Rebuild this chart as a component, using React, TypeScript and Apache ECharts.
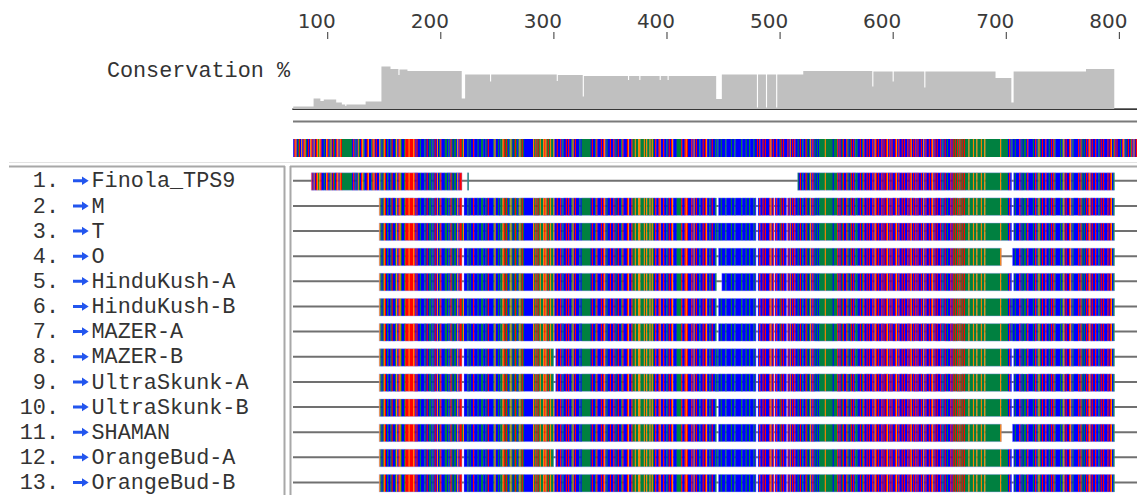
import React, { useEffect, useRef } from 'react';
import * as echarts from 'echarts';

// ---------- data ----------
const NAMES = [
  'Finola_TPS9', 'M', 'T', 'O', 'HinduKush-A', 'HinduKush-B', 'MAZER-A',
  'MAZER-B', 'UltraSkunk-A', 'UltraSkunk-B', 'SHAMAN', 'OrangeBud-A', 'OrangeBud-B',
];

const RULER_TICKS = [100, 200, 300, 400, 500, 600, 700, 800];

// visible window of alignment positions
const POS_MIN = 69.3;
const POS_MAX = 815.6;

// consensus sequence, 10 residues per block, starting at position 70
const SEQ_FIRST = 70;
const SEQ_BLOCKS = [
  'CAGCTACGCA', 'GTCACGACGC', 'AGTGACCTCG', 'ACTGCATCAG', 'CGATTTTTTT',
  'TTCACTCGTC', 'AGTCCAGCCT', 'AGCACCGTCT', 'GACTCCTACC', 'TGCAGTCCTA',
  'AAGAAAGACA', 'CCTCCCTCAC', 'TTCTCACGCT', 'ACCCTTCTCA', 'TCTTCGCAAT',
  'GCCCTCTCCA', 'CCCTCCTTCC', 'TCACCCCTGC', 'CTCTTGATAT', 'CTGTCTATCT',
  'GTATCCCCCC', 'CCGTATATGT', 'TGAGTATGTT', 'GCCACCACTC', 'CACACCTGCA',
  'CCCTCTTTTT', 'TTTCACCTAC', 'CCACAGCTCC', 'ACCACTCACC', 'TACCCAGCCA',
  'TTGTTGGTTT', 'GTGTTGTGTC', 'ACCAGCCACC', 'TCACAGCCCT', 'TTTACCAGAC',
  'CCACGCACCT', 'CCACAGCCTC', 'ACCTCTCCTC', 'CCTCCCCTCC', 'TCCCCCTCCC',
  'TCCTCCCTCC', 'ACACCACACC', 'CAGCACCACC', 'TACACCCACG', 'CACACCTCAC',
  'TCCATCTGCA', 'CTCTCTTTTT', 'GTTTTTTCTT', 'TACACTACCA', 'TCTACACTTC',
  'CACTACCACA', 'CCACGACACC', 'ACACAGCACA', 'CCAGCACCAC', 'ACCACAGCAC',
  'ACACCACGCA', 'CCACAGCACA', 'CCACTCACTC', 'CACATATATA', 'TATATTTGTT',
  'TGTTGTTTGT', 'TGTTTTTTTT', 'TTTTTGTTTT', 'TTCACTCCTC', 'CCACTCTTCA',
  'CCCCTCACTG', 'TCACCACCTC', 'ACATCCCCTC', 'TGCACCAGCT', 'CCCCACATCT',
  'CACAGCACCA', 'CCTCACACCC', 'ACAGCTACAC', 'CTCAGCTCAC', 'TACGCACCTC',
];

const RESIDUES = ['A', 'C', 'G', 'T'];
const RESIDUE_COLORS = ['#ff0000', '#0000ff', '#ff8000', '#008040'];

// each aligned row: first / last residue and gap stretches
const ROW_START = [86, 146, 146, 146, 146, 146, 146, 146, 146, 146, 146, 146, 146];
const ROW_END = [795, 795, 795, 795, 795, 795, 795, 795, 795, 795, 795, 795, 795];
const ROW_GAPS: number[][][] = [
  [[219, 223], [225, 515], [705, 706]],
  [[219, 220], [444, 445], [479, 480], [495, 495], [506, 506], [705, 706]],
  [[479, 480], [495, 495], [506, 506], [705, 706]],
  [[219, 220], [444, 445], [479, 480], [495, 495], [506, 506], [696, 705]],
  [[219, 220], [444, 448], [479, 480], [495, 495], [506, 506], [705, 706]],
  [[444, 445], [479, 480], [495, 495], [506, 506]],
  [[444, 445], [479, 480], [495, 495], [506, 506]],
  [[219, 220], [300, 301], [479, 480], [495, 495], [506, 506], [705, 706]],
  [[219, 220], [300, 301], [479, 480], [495, 495], [506, 506], [705, 706]],
  [[219, 220], [444, 445], [479, 480], [495, 495], [506, 506], [705, 706]],
  [[444, 445], [479, 480], [495, 495], [506, 506], [696, 705]],
  [[219, 220], [300, 301], [479, 480], [495, 495], [506, 506], [705, 706]],
  [[219, 220], [444, 445], [479, 480], [495, 495], [506, 506], [705, 706]],
];

// conservation %: [first position, last position, value]
const CONS_RUNS = [
  [70, 87, 5], [88, 93, 21], [94, 96, 16], [97, 107, 19], [108, 112, 13],
  [113, 115, 9], [116, 116, 6], [117, 133, 9], [134, 147, 15], [148, 155, 85],
  [156, 162, 80], [163, 163, 68], [164, 170, 79], [171, 218, 76], [219, 221, 21],
  [222, 243, 69], [244, 244, 55], [245, 302, 69], [303, 303, 56], [304, 325, 68],
  [326, 326, 25], [327, 365, 66], [366, 366, 58], [367, 375, 66], [376, 376, 58],
  [377, 393, 66], [394, 394, 58], [395, 400, 66], [401, 401, 58], [402, 443, 66],
  [444, 448, 20], [449, 479, 69], [480, 480, 3], [481, 487, 69], [488, 488, 3],
  [489, 496, 69], [497, 497, 3], [498, 520, 69], [521, 581, 76], [582, 582, 45],
  [583, 599, 75], [600, 600, 55], [601, 627, 75], [628, 628, 43], [629, 690, 75],
  [691, 704, 62], [705, 706, 13], [707, 770, 75], [771, 795, 80], [796, 815, 0],
];

// ---------- helpers ----------
const SEQ = SEQ_BLOCKS.join('');
const letterIndex = (p: number) => RESIDUES.indexOf(SEQ[p - SEQ_FIRST]);

function buildRuns(start: number, end: number, gaps: number[][], row: number) {
  const out: number[][] = [];
  let cur: number[] | null = null;
  for (let p = start; p <= end; p++) {
    const inGap = gaps.some((g) => p >= g[0] && p <= g[1]);
    if (inGap) { cur = null; continue; }
    const li = letterIndex(p);
    if (li < 0) { cur = null; continue; }
    if (cur && cur[3] === li && cur[1] === p - 0.5) {
      cur[1] = p + 0.5;
    } else {
      cur = [p - 0.5, p + 0.5, row, li];
      out.push(cur);
    }
  }
  return out;
}

function buildSegments(start: number, end: number, gaps: number[][], row: number) {
  const out: number[][] = [];
  let s = start;
  const sorted = gaps.slice().sort((a, b) => a[0] - b[0]);
  sorted.forEach((g) => {
    if (g[0] > s) out.push([s - 0.5, g[0] - 0.5, row]);
    s = Math.max(s, g[1] + 1);
  });
  if (s <= end) out.push([s - 0.5, end + 0.5, row]);
  return out;
}

const rowResidueData: number[][] = [];
const rowSegmentData: number[][] = [];
NAMES.forEach((_, i) => {
  rowResidueData.push(...buildRuns(ROW_START[i], ROW_END[i], ROW_GAPS[i], i));
  rowSegmentData.push(...buildSegments(ROW_START[i], ROW_END[i], ROW_GAPS[i], i));
});
const consensusData = buildRuns(SEQ_FIRST, 815, [], 0);

const consLine: number[][] = [];
CONS_RUNS.forEach((r) => {
  consLine.push([r[0] - 0.5, r[2]]);
  consLine.push([r[1] + 0.5, r[2]]);
});

const MONO = '"Liberation Mono", "Courier New", monospace';

function residueRenderer(h: number, up: number) {
  return (params: any, api: any) => {
    const a = api.coord([api.value(0), api.value(2)]);
    const b = api.coord([api.value(1), api.value(2)]);
    return {
      type: 'rect',
      shape: { x: a[0], y: a[1] - up, width: b[0] - a[0] + 0.35, height: h },
      style: { fill: RESIDUE_COLORS[api.value(3)] },
    };
  };
}

export default function App() {
  const ref = useRef<HTMLDivElement>(null);
  useEffect(() => {
    const chart = echarts.init(ref.current!, null, { renderer: 'svg' });
    const hiddenX = (grid: number) => ({
      type: 'value', gridIndex: grid, min: POS_MIN, max: POS_MAX, show: false,
    });
    const option: any = {
      animation: false,
      backgroundColor: '#ffffff',
      grid: [
        { left: 293, top: 59, width: 844, height: 50 },
        { left: 293, top: 139, width: 844, height: 18 },
        { left: 293, top: 168.2, width: 844, height: 327.6 },
      ],
      xAxis: [
        {
          type: 'value', gridIndex: 0, min: POS_MIN, max: POS_MAX, position: 'top',
          axisLine: { show: true, lineStyle: { color: '#111', width: 1 } },
          axisTick: { show: false }, axisLabel: { show: false }, splitLine: { show: false },
        },
        {
          type: 'value', gridIndex: 0, min: POS_MIN, max: POS_MAX, position: 'bottom',
          axisLine: { show: true, lineStyle: { color: '#444', width: 1.6 } },
          axisTick: { show: false }, axisLabel: { show: false }, splitLine: { show: false },
        },
        hiddenX(1),
        hiddenX(2),
      ],
      yAxis: [
        { type: 'value', gridIndex: 0, min: 0, max: 100, show: false },
        { type: 'value', gridIndex: 1, min: -0.5, max: 0.5, show: false, inverse: true },
        { type: 'value', gridIndex: 2, min: -0.5, max: NAMES.length - 0.5, show: false, inverse: true },
      ],
      graphic: [
        {
          type: 'text', x: 290, y: 71.2, z: 10,
          style: { text: 'Conservation %', font: `21.8px ${MONO}`, fill: '#333', textAlign: 'right', textVerticalAlign: 'middle' },
        },
        { type: 'line', shape: { x1: 293, y1: 121.5, x2: 1137, y2: 121.5 }, style: { stroke: '#7a7a7a', lineWidth: 2 } },
        { type: 'line', shape: { x1: 9, y1: 162.5, x2: 1137, y2: 162.5 }, style: { stroke: '#e2e2e2', lineWidth: 1 } },
        { type: 'line', shape: { x1: 9, y1: 166.5, x2: 285, y2: 166.5 }, style: { stroke: '#a8a8a8', lineWidth: 2 } },
        { type: 'line', shape: { x1: 284.5, y1: 166, x2: 284.5, y2: 495 }, style: { stroke: '#a8a8a8', lineWidth: 2 } },
        { type: 'line', shape: { x1: 290, y1: 166.5, x2: 1137, y2: 166.5 }, style: { stroke: '#a8a8a8', lineWidth: 2 } },
        { type: 'line', shape: { x1: 290.5, y1: 166, x2: 290.5, y2: 495 }, style: { stroke: '#a8a8a8', lineWidth: 2 } },
      ],
      series: [
        // ruler ticks and labels
        {
          type: 'custom', xAxisIndex: 0, yAxisIndex: 0, clip: false, silent: true,
          data: RULER_TICKS.map((t) => [t, 100]),
          encode: { x: 0, y: 1 },
          renderItem: (params: any, api: any) => {
            const x = api.coord([api.value(0), 100])[0];
            return {
              type: 'group',
              children: [
                { type: 'line', shape: { x1: x, y1: 32, x2: x, y2: 39 }, style: { stroke: '#333', lineWidth: 1 } },
                {
                  type: 'text', x: x - 11, y: 20.5,
                  style: {
                    text: String(api.value(0)), font: '20px "DejaVu Sans", Verdana, sans-serif',
                    fill: '#3a3a3a', textAlign: 'center', textVerticalAlign: 'middle',
                  },
                },
              ],
            };
          },
        },
        {
          type: 'line', xAxisIndex: 0, yAxisIndex: 0, data: consLine,
          symbol: 'none', silent: true,
          lineStyle: { width: 0 },
          areaStyle: { color: '#c0c0c0', opacity: 1 },
        },
        {
          type: 'custom', xAxisIndex: 2, yAxisIndex: 1, data: consensusData,
          encode: { x: [0, 1], y: 2 }, silent: true, clip: true,
          renderItem: residueRenderer(18, 9),
        },
        {
          type: 'custom', xAxisIndex: 3, yAxisIndex: 2, z: 1,
          data: NAMES.map((_, i) => [POS_MIN, POS_MAX, i]),
          encode: { x: [0, 1], y: 2 }, silent: true,
          renderItem: (params: any, api: any) => {
            const a = api.coord([api.value(0), api.value(2)]);
            const b = api.coord([api.value(1), api.value(2)]);
            return {
              type: 'line',
              shape: { x1: a[0], y1: a[1], x2: b[0], y2: b[1] },
              style: { stroke: '#707070', lineWidth: 2 },
            };
          },
        },
        {
          type: 'custom', xAxisIndex: 3, yAxisIndex: 2, z: 2, data: rowResidueData,
          encode: { x: [0, 1], y: 2 }, silent: true, clip: true,
          renderItem: residueRenderer(17.5, 8),
        },
        // pale outline round each aligned stretch
        {
          type: 'custom', xAxisIndex: 3, yAxisIndex: 2, z: 3, data: rowSegmentData,
          encode: { x: [0, 1], y: 2 }, silent: true,
          renderItem: (params: any, api: any) => {
            const a = api.coord([api.value(0), api.value(2)]);
            const b = api.coord([api.value(1), api.value(2)]);
            return {
              type: 'rect',
              shape: { x: a[0], y: a[1] - 8, width: b[0] - a[0], height: 17.5 },
              style: { fill: 'none', stroke: 'rgba(140,150,255,0.35)', lineWidth: 1 },
            };
          },
        },
        {
          type: 'custom', xAxisIndex: 3, yAxisIndex: 2, z: 4,
          data: NAMES.map((n, i) => [POS_MIN, i]),
          encode: { x: 0, y: 1 }, silent: true, clip: false,
          renderItem: (params: any, api: any) => {
            const i = api.value(1);
            const c = api.coord([api.value(0), i])[1];
            return {
              type: 'group',
              children: [
                {
                  type: 'text', x: 59, y: c + 1.2,
                  style: { text: `${i + 1}.`, font: `21.8px ${MONO}`, fill: '#333', textAlign: 'right', textVerticalAlign: 'middle' },
                },
                {
                  type: 'polygon',
                  shape: {
                    points: [
                      [73, c - 1.5], [82, c - 1.5], [82, c - 4.3], [88.7, c],
                      [82, c + 4.3], [82, c + 1.5], [73, c + 1.5],
                    ],
                  },
                  style: { fill: '#2255ee' },
                },
                {
                  type: 'text', x: 91.5, y: c + 1.2,
                  style: { text: NAMES[i], font: `21.8px ${MONO}`, fill: '#333', textAlign: 'left', textVerticalAlign: 'middle' },
                },
              ],
            };
          },
        },
      ],
    };
    chart.setOption(option);
    return () => chart.dispose();
  }, []);
  return (
    <div
      ref={ref}
      style={{ position: 'fixed', left: 0, top: 0, width: 1137, height: 495, background: '#fff' }}
    />
  );
}
